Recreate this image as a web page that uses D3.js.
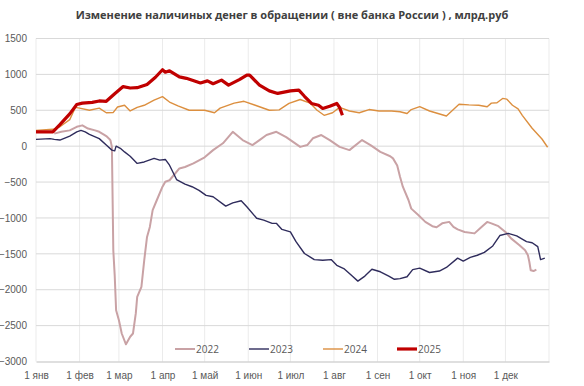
<!DOCTYPE html>
<html lang="ru">
<head>
<meta charset="UTF-8">
<title>Изменение наличных денег в обращении</title>
<script src="https://cdnjs.cloudflare.com/ajax/libs/d3/7.8.5/d3.min.js"></script>
<style>
  body { margin: 0; background: #fff; }
  svg { display: block; font-family: "Open Sans", "Liberation Sans", sans-serif; }
  .tick text { fill: #595959; font-size: 10px; }
</style>
</head>
<body>
<div id="chart"></div>
<script>
// day of year (0 = 1 янв) and value, млрд руб
const days2022 = [13,18,24,29,33,37,42,45,48,50,52,53,54,55,56,57,59,61,64,65,67,69,71,72,75,77,79,81,83,86,90,92,95,98,102,106,112,120,126,133,140,147,154,159,164,171,178,188,193,197,203,209,216,223,232,238,245,252,254,257,259,261,265,267,272,277,282,285,289,294,297,300,305,312,316,321,324,329,334,338,344,348,350,351,352,354,356];
const vals2022 = [175,200,220,270,290,245,220,200,165,140,105,80,-10,-1450,-1800,-2285,-2425,-2610,-2760,-2725,-2655,-2610,-2330,-2100,-1960,-1590,-1265,-1125,-890,-750,-565,-495,-475,-405,-310,-290,-240,-155,-55,40,200,85,15,85,155,200,125,-10,15,110,155,85,-10,-55,85,15,-80,-140,-170,-270,-425,-565,-750,-870,-960,-1055,-1115,-1130,-1075,-1055,-1125,-1160,-1195,-1215,-1145,-1055,-1075,-1115,-1195,-1285,-1380,-1450,-1520,-1610,-1730,-1740,-1720];

const days2023 = [0,10,13,17,24,29,32,35,38,45,50,54,56,57,60,63,67,72,77,84,88,92,95,100,106,111,116,121,126,135,140,146,150,157,162,168,171,175,181,185,191,198,204,210,214,219,225,229,234,239,245,251,255,259,264,268,273,280,287,292,300,304,309,314,319,325,330,336,342,349,353,357,359,362];
const vals2023 = [95,105,95,85,140,200,220,200,165,105,15,-55,-65,0,-30,-80,-140,-240,-220,-170,-195,-185,-265,-465,-530,-565,-615,-685,-705,-835,-790,-760,-845,-1005,-1030,-1075,-1075,-1160,-1195,-1330,-1495,-1580,-1590,-1580,-1660,-1705,-1810,-1880,-1810,-1715,-1750,-1810,-1855,-1845,-1820,-1720,-1700,-1760,-1740,-1690,-1560,-1600,-1550,-1520,-1480,-1390,-1245,-1215,-1250,-1330,-1345,-1400,-1580,-1560];

const days2024 = [0,12,17,24,28,31,38,45,50,55,58,63,67,72,77,84,90,95,101,109,120,127,131,141,148,156,166,173,180,188,195,200,205,211,216,223,230,237,244,253,259,264,267,273,280,292,301,308,315,321,324,328,332,335,339,343,346,353,360,364];
const vals2024 = [220,235,270,370,540,530,500,530,465,470,545,570,490,540,570,640,690,615,560,500,500,465,530,600,625,570,500,505,595,650,600,500,430,465,540,490,465,510,490,490,480,455,510,550,490,420,585,575,570,550,600,605,665,655,570,520,430,250,100,-15];

const days2025 = [0,12,17,24,29,33,40,45,50,56,62,67,72,79,85,90,92,95,102,107,117,122,126,132,137,145,150,152,159,166,172,181,187,191,196,201,204,209,214,216,218];
const vals2025 = [200,200,300,450,580,600,610,630,625,730,830,810,815,860,960,1065,1030,1050,965,945,880,910,870,920,850,930,990,990,850,770,735,770,780,695,595,570,525,555,595,540,430];

const years = ["2022", "2023", "2024", "2025"];
const seriesDays = [days2022, days2023, days2024, days2025];
const seriesVals = [vals2022, vals2023, vals2024, vals2025];
const colors = ["#c9a2a5", "#2f2c5c", "#dc8f3f", "#c00000"];
const widths = [2, 1.4, 1.4, 3.2];

const yTicks = [1500, 1000, 500, 0, -500, -1000, -1500, -2000, -2500, -3000];
const monthLabels = ["1 янв", "1 фев", "1 мар", "1 апр", "1 май", "1 июн", "1 июл", "1 авг", "1 сен", "1 окт", "1 ноя", "1 дек"];

const width = 584, height = 386;
const margin = {top: 38.5, right: 35, bottom: 24.5, left: 36};
const base = new Date(2001, 0, 1);
const toDate = d => d3.timeDay.offset(base, d);

const svg = d3.select("#chart").append("svg")
    .attr("width", width)
    .attr("height", height);

const x = d3.scaleTime()
    .domain([base, new Date(2002, 0, 1)])
    .range([margin.left, width - margin.right]);

const y = d3.scaleLinear()
    .domain([-3000, 1500])
    .range([height - margin.bottom, margin.top]);

const monthStarts = d3.timeMonth.range(base, new Date(2002, 0, 1));

// gridlines
svg.append("g")
    .selectAll("line")
    .data(monthStarts.concat([new Date(2002, 0, 1)]))
    .join("line")
    .attr("x1", d => x(d)).attr("x2", d => x(d))
    .attr("y1", margin.top).attr("y2", height - margin.bottom)
    .attr("stroke", "#ebebeb")
    .attr("stroke-width", 1);

svg.append("g")
    .selectAll("line")
    .data(yTicks.filter(d => d !== -3000))
    .join("line")
    .attr("x1", margin.left).attr("x2", width - margin.right)
    .attr("y1", d => y(d)).attr("y2", d => y(d))
    .attr("stroke", "#d9d9d9")
    .attr("stroke-width", 1);

// axes
svg.append("g")
    .attr("transform", `translate(0,${height - margin.bottom})`)
    .call(d3.axisBottom(x).tickValues(monthStarts).tickSize(0).tickPadding(10)
        .tickFormat((d, i) => monthLabels[i]))
    .call(g => g.select(".domain").attr("stroke", "#bfbfbf"));

svg.append("g")
    .attr("transform", `translate(${margin.left},0)`)
    .call(d3.axisLeft(y).tickValues(yTicks).tickSize(0).tickPadding(9)
        .tickFormat(d3.format("d")))
    .call(g => g.select(".domain").remove());

// lines
const line = d3.line()
    .x(d => x(toDate(d[0])))
    .y(d => y(d[1]));

years.forEach((yr, i) => {
    const pts = seriesDays[i].map((d, j) => [d, seriesVals[i][j]]);
    svg.append("path")
        .datum(pts)
        .attr("fill", "none")
        .attr("stroke", colors[i])
        .attr("stroke-width", widths[i])
        .attr("stroke-linejoin", "round")
        .attr("d", line);
});

// legend
const legend = svg.append("g").attr("transform", "translate(175,349)");
years.forEach((yr, i) => {
    const g = legend.append("g").attr("transform", `translate(${i * 74},0)`);
    g.append("line")
        .attr("x1", 0).attr("x2", 20)
        .attr("stroke", colors[i])
        .attr("stroke-width", widths[i]);
    g.append("text")
        .attr("x", 21).attr("y", 3.5)
        .attr("fill", "#595959")
        .attr("font-size", 10)
        .text(yr);
});

// title
svg.append("text")
    .attr("x", 292).attr("y", 19)
    .attr("text-anchor", "middle")
    .attr("font-size", 11)
    .attr("font-weight", "bold")
    .attr("fill", "#404040")
    .text("Изменение наличиных денег в обращении ( вне банка России ) , млрд.руб");
</script>
</body>
</html>
